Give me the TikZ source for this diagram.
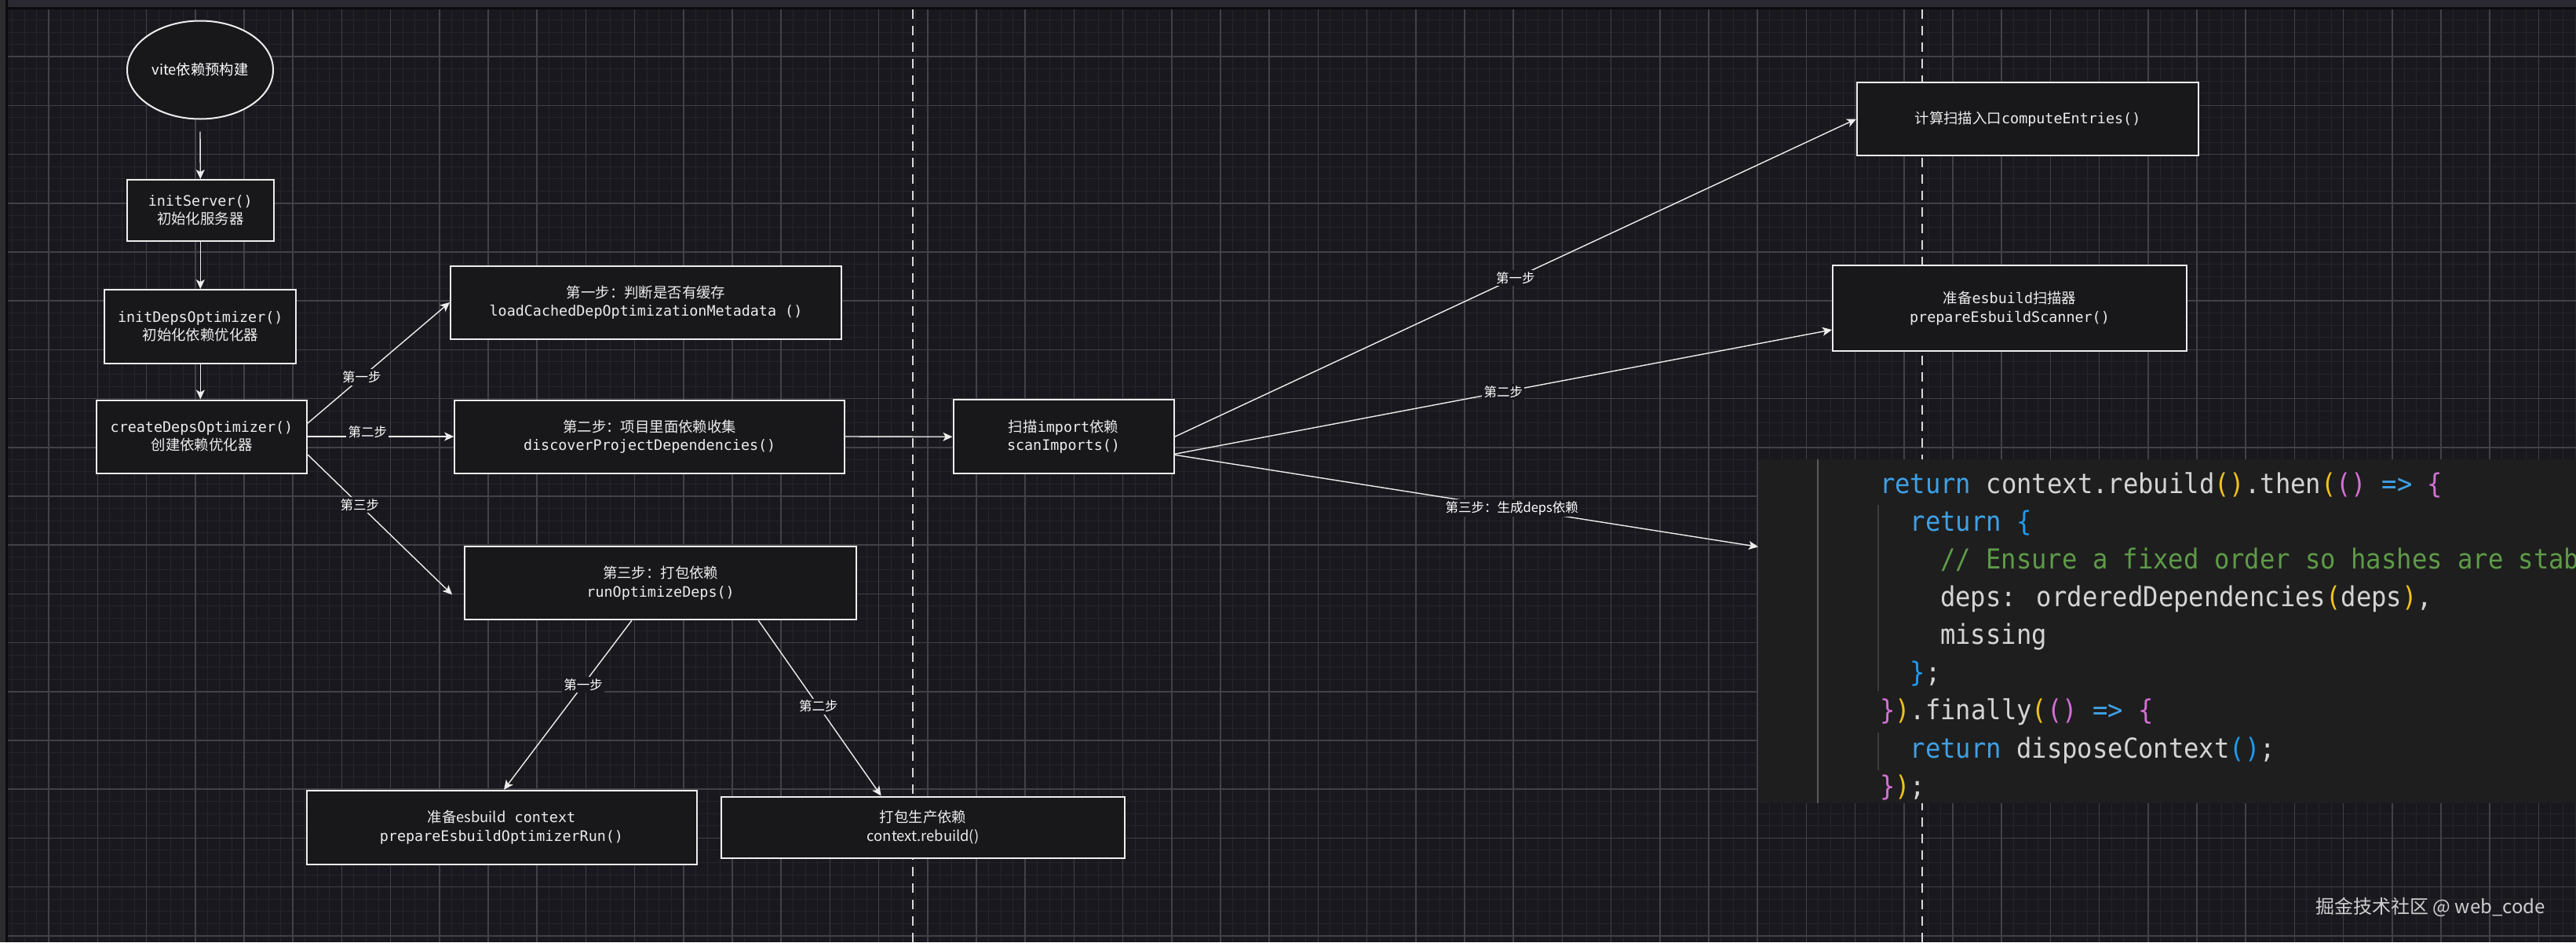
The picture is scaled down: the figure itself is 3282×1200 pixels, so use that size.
\documentclass[tikz,border=0pt]{standalone}
\usepackage{fontspec}
\setmainfont{Noto Sans CJK SC}
\newfontfamily\codef{DejaVu Sans Mono}
\newfontfamily\codebig[FakeStretch=0.92]{DejaVu Sans Mono}
\usetikzlibrary{shapes.geometric,arrows.meta,calc}
\definecolor{bg}{HTML}{19181E}
\definecolor{gridmaj}{HTML}{414147}
\definecolor{gridmin}{HTML}{25252A}
\definecolor{topbar}{HTML}{2A2830}
\definecolor{leftbar}{HTML}{2C2C2F}
\definecolor{barline}{HTML}{0C0C0E}
\definecolor{boxfill}{HTML}{18181B}
\definecolor{boxline}{HTML}{EEEEEE}
\definecolor{txt}{HTML}{EDEDED}
\definecolor{codebg}{HTML}{1E1E1E}
\definecolor{ctxt}{HTML}{D4D4D4}
\definecolor{ckw}{HTML}{3FA0E4}
\definecolor{cgold}{HTML}{F2C21B}
\definecolor{cpink}{HTML}{D46FD6}
\definecolor{cblue}{HTML}{1E9BF0}
\definecolor{ccom}{HTML}{5E9B48}
\definecolor{guide}{HTML}{5A5A5A}
\definecolor{guidetwo}{HTML}{3C3C3C}
\definecolor{dashcol}{HTML}{D8D8D8}
\definecolor{wmcol}{HTML}{CFCFCF}
\newcommand\tk[2]{\textcolor{#1}{#2}}
\begin{document}
\begin{tikzpicture}[x=0.5pt,y=-0.5pt,
  box/.style={draw=boxline, line width=1pt, fill=boxfill, text=txt, align=center,
    inner sep=0pt, font=\fontsize{9.2}{11.65}\selectfont},
  oval/.style={ellipse, draw=boxline, line width=1pt, fill=boxfill, text=white,
    inner sep=0pt, font=\fontsize{9.15}{11}\selectfont},
  conn/.style={draw=white!93!black, line width=0.7pt,
    -{Stealth[length=6pt,width=5.5pt,inset=1.5pt]}},
  lbl/.style={fill=bg, text=white, inner sep=1.2pt, font=\fontsize{8.25}{10}\selectfont},
  codeln/.style={anchor=base west, inner sep=0pt, text=ctxt,
    font=\codebig\fontsize{17.5}{20}\selectfont},
  dashln/.style={draw=dashcol, line width=1.2pt, dash pattern=on 6pt off 4.5pt}
]
\useasboundingbox (0,0) rectangle (3282,1200);
\fill[bg] (0,0) rectangle (3282,1200);
% grid
\begin{scope}
\clip (10,12) rectangle (3282,1200);
\foreach \i in {0,...,211} \draw[gridmin, line width=0.5pt] ({\i*15.55},12) -- ({\i*15.55},1200);
\foreach \j in {0,...,76} \draw[gridmin, line width=0.5pt] (10,{10+\j*15.55}) -- (3282,{10+\j*15.55});
\foreach \i in {1,...,52} \draw[gridmaj, line width=0.75pt] ({\i*62.2},12) -- ({\i*62.2},1200);
\foreach \j in {1,...,19} \draw[gridmaj, line width=0.75pt] (10,{10+\j*62.2}) -- (3282,{10+\j*62.2});
\end{scope}
% window bars
\fill[leftbar] (0,0) rectangle (7,1200);
\fill[barline] (7,0) rectangle (10,1200);
\fill[topbar] (10,0) rectangle (3282,9);
\fill[barline] (10,9) rectangle (3282,12);
% dashed separators
\draw[dashln] (1163,12) -- (1163,1200);
\draw[dashln] (2449,12) -- (2449,1200);
% nodes
\node[oval, minimum width=93pt, minimum height=62.5pt] (ell) at (255,89) {vite依赖预构建};
\node[box, minimum width=93.5pt, minimum height=39pt] (s1) at (255.3,268) {{\codef initServer()}\\初始化服务器};
\node[box, minimum width=122pt, minimum height=47pt] (s2) at (255.3,416) {{\codef initDepsOptimizer()}\\初始化依赖优化器};
\node[box, minimum width=134pt, minimum height=46.5pt] (s3) at (257,556) {{\codef createDepsOptimizer()}\\创建依赖优化器};
\node[box, minimum width=249pt, minimum height=46.5pt] (a1) at (823,385) {第一步：判断是否有缓存\\{\codef loadCachedDepOptimizationMetadata ()}};
\node[box, minimum width=248.5pt, minimum height=46.5pt] (a2) at (827.7,556) {第二步：项目里面依赖收集\\{\codef discoverProjectDependencies()}};
\node[box, minimum width=249.5pt, minimum height=46.5pt] (a3) at (841.6,742.7) {第三步：打包依赖\\{\codef runOptimizeDeps()}};
\node[box, minimum width=248.5pt, minimum height=47pt] (b1) at (639,1053.7) {准备esbuild{\codef\ context}\\{\codef prepareEsbuildOptimizerRun()}};
\node[box, minimum width=257pt, minimum height=39pt] (b2) at (1176,1053.5) {打包生产依赖\\context.rebuild()};
\node[box, minimum width=140.5pt, minimum height=47pt] (c0) at (1355,556.3) {扫描{\codef import}依赖\\{\codef scanImports()}};
\node[box, minimum width=217.5pt, minimum height=46.5pt] (c1) at (2583.5,151.5) {计算扫描入口{\codef computeEntries()}};
\node[box, minimum width=225.5pt, minimum height=54.5pt] (c2) at (2560.5,392.5) {准备{\codef esbuild}扫描器\\{\codef prepareEsbuildScanner()}};
% code screenshot panel
\node[fill=codebg, draw=none, inner sep=0pt, anchor=north west,
  minimum width=521pt, minimum height=219pt] (code) at (2240,585) {};
\draw[guide, line width=1pt] (2316,585) -- (2316,1023);
\draw[guidetwo, line width=0.8pt] (2393,643) -- (2393,880);
\draw[guidetwo, line width=0.8pt] (2393,933) -- (2393,981);
\begin{scope}
\clip (2240,585) rectangle (3282,1023);
\node[codeln] (cl0) at (2394.6,628.3) {\tk{ckw}{return} context.rebuild\tk{cgold}{()}.then\tk{cgold}{(}\tk{cpink}{()} \tk{ckw}{=>} \tk{cpink}{\{}};
\node[codeln] (cl1) at (2433.2,676.4) {\tk{ckw}{return} \tk{cblue}{\{}};
\node[codeln] (cl2) at (2471.8,724.5) {\tk{ccom}{// Ensure a fixed order so hashes are stab}};
\node[codeln] (cl3) at (2471.8,772.6) {deps: orderedDependencies\tk{cgold}{(}deps\tk{cgold}{)},};
\node[codeln] (cl4) at (2471.8,820.7) {missing};
\node[codeln] (cl5) at (2433.2,868.8) {\tk{cblue}{\}};};
\node[codeln] (cl6) at (2394.6,916.9) {\tk{cpink}{\}}\tk{cgold}{)}.finally\tk{cgold}{(}\tk{cpink}{()} \tk{ckw}{=>} \tk{cpink}{\{}};
\node[codeln] (cl7) at (2433.2,965.0) {\tk{ckw}{return} disposeContext\tk{cblue}{()};};
\node[codeln] (cl8) at (2394.6,1013.1) {\tk{cpink}{\}}\tk{cgold}{)};};
\end{scope}
% connectors
\draw[conn] ($(ell.south)+(0,15)$) -- (s1.north);
\draw[conn] (s1.south) -- (s2.north);
\draw[conn] (s2.south) -- (s2.south |- s3.north);
\draw[conn] ($(s3.east)+(0,-17)$) -- (a1.west) node[lbl,pos=0.38] (e1) {第一步};
\draw[conn] (s3.east) -- (a2.west) node[lbl,pos=0.41,yshift=3pt] (e2) {第二步};
\draw[conn] ($(s3.east)+(0,23)$) -- ($(a3.west)+(-15,14.6)$) node[lbl,pos=0.36] (e3) {第三步};
\draw[conn] (a2.east) -- (c0.west);
\draw[conn] (c0.east) -- (c1.west) node[lbl,pos=0.5] (e4) {第一步};
\draw[conn] ($(c0.east)+(0,22)$) -- ($(c2.west)+(0,27.5)$) node[lbl,pos=0.5] (e5) {第二步};
\draw[conn] ($(c0.east)+(0,23)$) -- ($(code.west)+(0,-108)$) node[lbl,pos=0.578] (e6) {第三步：生成deps依赖};
\draw[conn] ($(a3.south)+(-36.7,0)$) -- ($(b1.north)+(3,0)$) node[lbl,pos=0.38] (e7) {第一步};
\draw[conn] ($(a3.south)+(124.7,0)$) -- ($(b2.north)+(-53.4,0)$) node[lbl,pos=0.49] (e8) {第二步};
% watermark
\node[text=wmcol, inner sep=0pt, font=\fontsize{12}{14}\selectfont] (wm) at (3096.7,1155) {掘金技术社区 @ web\_code};
\end{tikzpicture}
\end{document}
